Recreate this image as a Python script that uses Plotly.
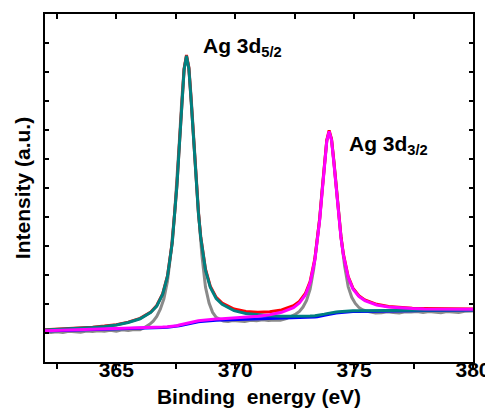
import plotly.graph_objects as go

# ---------------- data ----------------
# fitted curves share one energy grid (eV)
fit_x = [362.0, 362.5, 363.0, 363.5, 364.0, 364.5, 365.0, 365.5, 366.0,
         366.45, 366.7, 366.95, 367.15,
         367.35, 367.45, 367.55, 367.65, 367.75, 367.85, 367.95,
         368.05, 368.15, 368.25, 368.35, 368.45, 368.55,
         368.75, 368.95, 369.2, 369.45,
         369.95, 370.45, 370.95, 371.45, 371.95, 372.45,
         372.7, 372.95, 373.15,
         373.35, 373.45, 373.55, 373.65, 373.75, 373.85, 373.95,
         374.05, 374.15, 374.25, 374.35, 374.45, 374.55,
         374.75, 374.95, 375.2, 375.45,
         375.95, 376.45, 376.95, 377.45, 377.95,
         378.5, 379.0, 379.5, 380.0]

# Shirley-type background (blue)
background = [1.07, 1.08, 1.09, 1.10, 1.11, 1.12, 1.13, 1.15, 1.16,
              1.17, 1.18, 1.19, 1.20,
              1.21, 1.22, 1.23, 1.25, 1.27, 1.29, 1.31,
              1.33, 1.35, 1.37, 1.38, 1.39, 1.40,
              1.42, 1.43, 1.44, 1.45,
              1.46, 1.47, 1.48, 1.49, 1.50, 1.51,
              1.52, 1.53, 1.54,
              1.55, 1.56, 1.57, 1.59, 1.61, 1.63, 1.65,
              1.67, 1.68, 1.69, 1.70, 1.71, 1.72,
              1.73, 1.74, 1.745, 1.75,
              1.755, 1.76, 1.765, 1.77, 1.775,
              1.78, 1.785, 1.79, 1.795]

# Ag 3d5/2 component (above background)
peak_3d52 = [0.037, 0.043, 0.053, 0.065, 0.082, 0.108, 0.147, 0.212, 0.33,
             0.54, 0.75, 1.15, 1.75,
             2.89, 3.76, 4.87, 6.20, 7.61, 8.78, 9.25,
             8.78, 7.61, 6.20, 4.87, 3.76, 2.89,
             1.75, 1.15, 0.75, 0.54,
             0.31, 0.20, 0.142, 0.105, 0.080, 0.064,
             0.057, 0.052, 0.048,
             0.044, 0.043, 0.042, 0.041, 0.040, 0.038, 0.036,
             0.035, 0.034, 0.033, 0.032, 0.031, 0.030,
             0.028, 0.027, 0.025, 0.023,
             0.020, 0.018, 0.016, 0.014, 0.013,
             0.012, 0.011, 0.010, 0.009]

# Ag 3d3/2 component (above background)
peak_3d32 = [0.006, 0.007, 0.0075, 0.008, 0.009, 0.010, 0.011, 0.012, 0.014,
             0.016, 0.017, 0.018, 0.019,
             0.020, 0.021, 0.022, 0.023, 0.024, 0.024, 0.025,
             0.026, 0.027, 0.028, 0.028, 0.029, 0.030,
             0.033, 0.035, 0.039, 0.043,
             0.055, 0.072, 0.097, 0.139, 0.213, 0.367,
             0.513, 0.781, 1.19,
             1.97, 2.56, 3.31, 4.22, 5.18, 5.98, 6.30,
             5.98, 5.18, 4.22, 3.31, 2.56, 1.97,
             1.19, 0.781, 0.513, 0.367,
             0.213, 0.139, 0.097, 0.072, 0.055,
             0.043, 0.035, 0.028, 0.024]

# raw measured spectrum (grey)
raw_x = [362.0, 362.25, 362.5, 362.75, 363.0, 363.25, 363.5, 363.75, 364.0,
         364.25, 364.5, 364.75, 365.0, 365.25, 365.5, 365.75, 366.0,
         366.2, 366.4, 366.55, 366.7, 366.85, 367.0, 367.15, 367.3,
         367.45, 367.55, 367.65, 367.75, 367.85, 367.95,
         368.05, 368.15, 368.25, 368.35, 368.45,
         368.6, 368.75, 368.9, 369.05, 369.2, 369.35, 369.5, 369.7,
         369.9, 370.15, 370.4, 370.65, 370.9, 371.15, 371.4, 371.65, 371.9,
         372.15, 372.4,
         372.55, 372.7, 372.85, 373.0, 373.15, 373.3,
         373.45, 373.55, 373.65, 373.75, 373.85, 373.95,
         374.05, 374.15, 374.25, 374.35, 374.45,
         374.6, 374.75, 374.9, 375.05, 375.2, 375.35, 375.5, 375.7, 375.9,
         376.15, 376.4, 376.65, 376.9, 377.15, 377.4, 377.65, 377.9,
         378.15, 378.4, 378.65, 378.9, 379.15, 379.4, 379.65, 379.9, 380.0]
raw_y = [1.04, 1.02, 1.04, 1.02, 1.06, 1.05, 1.03, 1.07, 1.05,
         1.08, 1.06, 1.09, 1.06, 1.11, 1.09, 1.12, 1.11,
         1.20, 1.30, 1.41, 1.57, 1.82, 2.18, 2.78, 3.80,
         5.12, 6.22, 7.60, 9.00, 10.13, 10.52,
         10.17, 9.08, 7.71, 6.34, 5.24,
         3.67, 2.58, 2.03, 1.71, 1.54, 1.46, 1.41, 1.395,
         1.43, 1.41, 1.40, 1.44, 1.42, 1.46, 1.43, 1.45, 1.44,
         1.50, 1.58,
         1.655, 1.745, 1.895, 2.12, 2.51, 3.21,
         4.17, 4.93, 5.90, 6.86, 7.64, 7.91,
         7.68, 6.93, 6.00, 5.06, 4.32,
         3.32, 2.60, 2.23, 2.02, 1.88, 1.80, 1.76, 1.73, 1.69,
         1.70, 1.73, 1.71, 1.69, 1.73, 1.72, 1.74, 1.71,
         1.74, 1.72, 1.70, 1.74, 1.73, 1.71, 1.75, 1.74, 1.76]

x_tick_vals = [365, 370, 375, 380]
x_tick_text = ["365", "370", "375", "380"]
x_range = [362, 380]
y_range = [0, 12]

# --------------- derived curves ---------------
assert len(fit_x) == len(background) == len(peak_3d52) == len(peak_3d32)
assert len(raw_x) == len(raw_y)
envelope = [b + a + c for b, a, c in zip(background, peak_3d52, peak_3d32)]
fit_52 = [b + a for b, a in zip(background, peak_3d52)]
fit_32 = [b + c for b, c in zip(background, peak_3d32)]

FONT = "Liberation Sans, Arial, sans-serif"
LW = 3

fig = go.Figure()
fig.add_trace(go.Scatter(x=raw_x, y=raw_y, mode="lines",
                         line=dict(color="#8a8a8a", width=LW), name="raw"))
fig.add_trace(go.Scatter(x=fit_x, y=envelope, mode="lines",
                         line=dict(color="#ff0000", width=LW), name="envelope"))
fig.add_trace(go.Scatter(x=fit_x, y=background, mode="lines",
                         line=dict(color="#0000ff", width=LW), name="background"))
fig.add_trace(go.Scatter(x=fit_x, y=fit_52, mode="lines",
                         line=dict(color="#008080", width=LW), name="Ag 3d5/2"))
fig.add_trace(go.Scatter(x=fit_x, y=fit_32, mode="lines",
                         line=dict(color="#ff00ff", width=LW), name="Ag 3d3/2"))
# invisible trace to activate the mirrored (top/right) axes
fig.add_trace(go.Scatter(x=x_range, y=y_range, xaxis="x2", yaxis="y2",
                         mode="markers", marker=dict(opacity=0),
                         hoverinfo="skip", showlegend=False))

fig.add_annotation(x=368.57, y=10.85, xref="x", yref="y",
                   text="<b>Ag 3d<sub>5/2</sub></b>", showarrow=False,
                   xanchor="left", yanchor="middle",
                   font=dict(family=FONT, size=21, color="black"))
fig.add_annotation(x=374.71, y=7.47, xref="x", yref="y",
                   text="<b>Ag 3d<sub>3/2</sub></b>", showarrow=False,
                   xanchor="left", yanchor="middle",
                   font=dict(family=FONT, size=21, color="black"))

# the page body adds an 8 px offset, so the figure is 8 px smaller on each axis
fig.update_layout(
    width=485, height=409,
    margin=dict(l=37, r=20, t=6, b=55, autoexpand=False),
    paper_bgcolor="white", plot_bgcolor="white",
    showlegend=False,
    font=dict(family=FONT, color="black"),
    xaxis=dict(range=x_range, tickvals=x_tick_vals, ticktext=x_tick_text,
               ticks="outside", ticklen=5, tickwidth=1.5, tickcolor="black",
               minor=dict(ticks="outside", tickvals=[362.5, 367.5, 372.5, 377.5],
                          ticklen=5, tickwidth=1.5, tickcolor="black"),
               showline=True, linewidth=2, linecolor="black", showgrid=False,
               zeroline=False, ticklabelstandoff=-17, automargin=False,
               tickfont=dict(family=FONT, size=21, color="black", weight="bold"),
               title=dict(text="<b>Binding  energy (eV)</b>", standoff=9,
                          font=dict(family=FONT, size=21, color="black"))),
    yaxis=dict(range=y_range, dtick=1, tick0=0, ticks="inside", ticklen=4,
               tickwidth=1.5, tickcolor="black", showticklabels=False,
               showline=True, linewidth=2, linecolor="black", showgrid=False,
               zeroline=False, automargin=False,
               title=dict(text="<b>Intensity (a.u.)</b>", standoff=7,
                          font=dict(family=FONT, size=21, color="black"))),
    xaxis2=dict(range=x_range, overlaying="x", side="top", dtick=2.5, tick0=362.5,
                ticks="inside", ticklen=5, tickwidth=1.5, tickcolor="black",
                showticklabels=False, showline=True, linewidth=2, linecolor="black",
                showgrid=False, zeroline=False, automargin=False),
    yaxis2=dict(range=y_range, overlaying="y", side="right", dtick=1, tick0=0,
                ticks="inside", ticklen=4, tickwidth=1.5, tickcolor="black",
                showticklabels=False, showline=True, linewidth=2, linecolor="black",
                showgrid=False, zeroline=False, automargin=False),
)

fig.write_html("out.html")
